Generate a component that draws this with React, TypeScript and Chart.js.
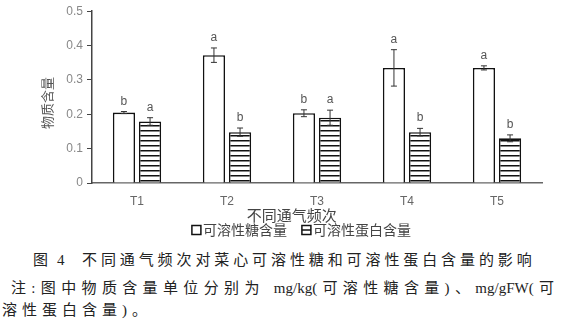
import React, { useEffect, useRef } from "react";
import { Chart, registerables } from "chart.js";
Chart.register(...registerables);

const categories = ["T1", "T2", "T3", "T4", "T5"];
const seriesNames = ["可溶性糖含量", "可溶性蛋白含量"];
const sugar = [0.205, 0.372, 0.203, 0.335, 0.335];
const sugarErr = [0.003, 0.021, 0.01, 0.053, 0.006];
const protein = [0.179, 0.148, 0.19, 0.148, 0.13];
const proteinErr = [0.011, 0.012, 0.022, 0.011, 0.01];
const sugarLetters = ["b", "a", "b", "a", "a"];
const proteinLetters = ["a", "b", "a", "b", "b"];
const yTitle = "物质含量";
const xTitle = "不同通气频次";
const yMin = 0;
const yMax = 0.5;
const yStep = 0.05;
const captionFig = ["图", "4"];
const captionTitle = "不同通气频次对菜心可溶性糖和可溶性蛋白含量的影响";
const noteLine1 = "注:图中物质含量单位分别为 mg/kg(可溶性糖含量)、mg/gFW(可";
const noteLine2 = "溶性蛋白含量)。";

const CJK = '"Noto Sans CJK SC", "Liberation Sans", sans-serif';
const LAT = '"Liberation Sans", "Noto Sans CJK SC", sans-serif';

export default function App() {
  const ref = useRef<HTMLCanvasElement>(null);
  useEffect(() => {
    document.body.style.margin = "0";
    const canvas = ref.current!;
    const ctx = canvas.getContext("2d")!;
    const pc = document.createElement("canvas");
    pc.width = 4;
    pc.height = 5;
    const pg = pc.getContext("2d")!;
    pg.fillStyle = "#fff";
    pg.fillRect(0, 0, 4, 5);
    pg.fillStyle = "#111";
    pg.fillRect(0, 0, 4, 1.5);
    const hatch = ctx.createPattern(pc, "repeat")!;

    const errs = [sugarErr, proteinErr];
    const letters = [sugarLetters, proteinLetters];

    const decor = {
      id: "decor",
      afterDatasetsDraw(chart: any) {
        const c = chart.ctx;
        const ys = chart.scales.y;
        c.save();
        chart.data.datasets.forEach((ds: any, di: number) => {
          const meta = chart.getDatasetMeta(di);
          meta.data.forEach((bar: any, i: number) => {
            const v = ds.data[i];
            const e = errs[di][i];
            const yTop = ys.getPixelForValue(v + e);
            const yBot = ys.getPixelForValue(v - e);
            c.strokeStyle = "#333";
            c.lineWidth = 1;
            c.beginPath();
            c.moveTo(bar.x, yTop);
            c.lineTo(bar.x, yBot);
            c.moveTo(bar.x - 3, yTop);
            c.lineTo(bar.x + 3, yTop);
            c.moveTo(bar.x - 3, yBot);
            c.lineTo(bar.x + 3, yBot);
            c.stroke();
            c.fillStyle = "#555";
            c.font = "12px " + LAT;
            c.textAlign = "center";
            c.textBaseline = "alphabetic";
            c.fillText(letters[di][i], bar.x, yTop - 7);
          });
        });
        c.restore();
      },
      afterDraw(chart: any) {
        const c = chart.ctx;
        const a = chart.chartArea;
        c.save();
        c.fillStyle = "#555";
        c.font = "13px " + CJK;
        c.textAlign = "center";
        c.textBaseline = "middle";
        c.save();
        c.translate(47, (a.top + a.bottom) / 2 + 6);
        c.rotate(-Math.PI / 2);
        c.fillText(yTitle, 0, 0);
        c.restore();
        c.fillStyle = "#444";
        c.font = "15px " + CJK;
        c.fillText(xTitle, a.left + (a.right - a.left) * 0.444, a.bottom + 32);
        // legend
        c.font = "14px " + CJK;
        const gap = 15;
        const box = 9;
        const tg = 2;
        const w0 = c.measureText(seriesNames[0]).width;
        let x = a.left + (a.right - a.left) * 0.242 - box;
        const y = a.bottom + 47;
        c.textAlign = "left";
        c.fillStyle = "#444";
        c.strokeStyle = "#111";
        c.lineWidth = 1.5;
        c.strokeRect(x, y - box / 2, box, box);
        c.fillText(seriesNames[0], x + box + tg, y);
        x += box + tg + w0 + gap;
        c.strokeRect(x, y - box / 2, box, box);
        c.beginPath();
        c.moveTo(x, y);
        c.lineTo(x + box, y);
        c.stroke();
        c.fillText(seriesNames[1], x + box + tg, y);
        c.restore();
      },
    };

    const chart = new Chart(ctx, {
      type: "bar",
      data: {
        labels: categories,
        datasets: [
          {
            label: seriesNames[0],
            data: sugar,
            backgroundColor: "#ffffff",
            borderColor: "#111",
            borderWidth: 1.6,
          },
          {
            label: seriesNames[1],
            data: protein,
            backgroundColor: hatch,
            borderColor: "#111",
            borderWidth: 1.6,
          },
        ],
      },
      options: {
        responsive: false,
        animation: false,
        devicePixelRatio: 1,
        layout: { padding: { left: 0, right: 21, top: 10, bottom: 20 } },
        datasets: { bar: { categoryPercentage: 0.58, barPercentage: 0.85 } },
        plugins: { legend: { display: false }, tooltip: { enabled: false } },
        scales: {
          x: {
            grid: { display: false },
            border: { display: true, color: "#666", width: 1.5 },
            ticks: { color: "#666", font: { size: 12, family: LAT }, padding: 3 },
            afterFit(s: any) {
              s.height = 40;
            },
          },
          y: {
            min: yMin,
            max: yMax,
            grid: {
              drawOnChartArea: false,
              drawTicks: true,
              tickLength: 5,
              color: "#444",
              lineWidth: 1,
            },
            border: { display: true, color: "#444", width: 1.5 },
            ticks: {
              stepSize: yStep,
              color: "#888",
              padding: 4,
              font: { size: 12, family: LAT },
              callback(v: any) {
                const n = Math.round(Number(v) * 100);
                return n % 10 === 0 ? String(n / 100) : "";
              },
            },
            afterFit(s: any) {
              s.width = 92;
            },
          },
        },
      },
      plugins: [decor],
    } as any);
    return () => chart.destroy();
  }, []);

  const capStyle: React.CSSProperties = {
    fontFamily: '"Liberation Serif", "Noto Sans CJK SC", serif',
    fontSize: 15,
    color: "#222",
    lineHeight: "22px",
    whiteSpace: "nowrap",
  };
  return (
    <div style={{ width: 563, background: "#fff" }}>
      <canvas ref={ref} width={563} height={243} style={{ display: "block" }} />
      <div style={{ ...capStyle, paddingLeft: 33, marginTop: 6 }}>
        <span style={{ display: "inline-block", width: 24 }}>{captionFig[0]}</span>
        <span style={{ display: "inline-block", width: 25 }}>{captionFig[1]}</span>
        <span style={{ letterSpacing: 3.9 }}>{captionTitle}</span>
      </div>
      <div
        style={{
          ...capStyle,
          marginTop: 6,
          marginLeft: 11,
          textAlign: "justify",
          textAlignLast: "justify",
          width: 543,
        }}
      >
        {noteLine1}
      </div>
      <div style={{ ...capStyle, letterSpacing: 5, paddingLeft: 2 }}>{noteLine2}</div>
    </div>
  );
}
